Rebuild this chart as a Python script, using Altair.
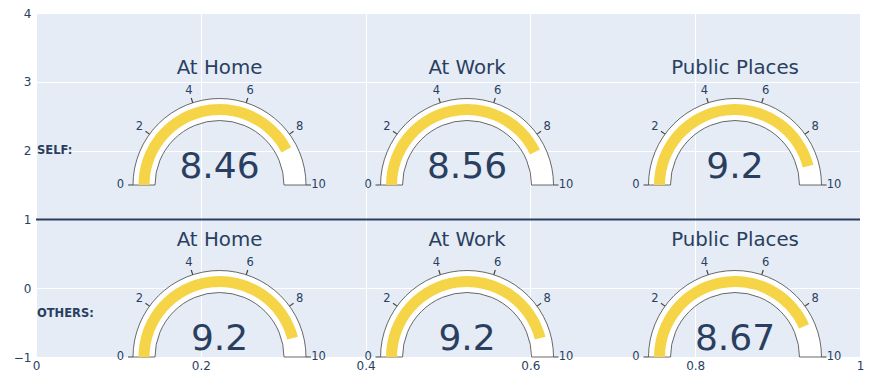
import math
import altair as alt
import pandas as pd

# ---- data ----
categories = ["At Home", "At Work", "Public Places"]
self_scores = [8.46, 8.56, 9.2]
others_scores = [9.2, 9.2, 8.67]
row_labels = ["SELF:", "OTHERS:"]
gauge_ticks = [0, 2, 4, 6, 8, 10]
gauge_max = 10
x_ticks = [0, 0.2, 0.4, 0.6, 0.8, 1]
y_ticks = [-1, 0, 1, 2, 3, 4]
divider_y = [1]

# ---- layout (gauge domains on the shared axes) ----
gauge_x = [0.2227, 0.5231, 0.8483]
row_y = [1.5, -1.0]
row_label_y = [2.0, -0.375]

TXT = "#2a3f5f"
FONT = "Verdana, DejaVu Sans, sans-serif"
START = 1.5 * math.pi  # west (9 o'clock), angles clockwise from north


def ang(v):
    return START + math.pi * v / gauge_max


gauges, ticks, tick_labels, rows = [], [], [], []
for r, scores in enumerate([self_scores, others_scores]):
    rows.append({"cx": 0.0, "cy": row_label_y[r], "label": row_labels[r]})
    for c, cat in enumerate(categories):
        v = scores[c]
        gauges.append({
            "cx": gauge_x[c], "cy": row_y[r], "title": cat,
            "value": v, "vtext": f"{v:g}",
            "g0": ang(0), "g1": ang(gauge_max),
            "b0": ang(0), "b1": ang(v),
        })
        for t in gauge_ticks:
            a = ang(t)
            ticks.append({"cx": gauge_x[c], "cy": row_y[r], "t0": a - 0.0065, "t1": a + 0.0065})
            tick_labels.append({"cx": gauge_x[c], "cy": row_y[r], "th": a, "lab": str(t)})

gdf = pd.DataFrame(gauges)
tdf = pd.DataFrame(ticks)
ldf = pd.DataFrame(tick_labels)
rdf = pd.DataFrame(rows)
divdf = pd.DataFrame({"cy": divider_y})

xscale = alt.Scale(domain=[0, 1], nice=False, zero=False)
yscale = alt.Scale(domain=[-1, 4], nice=False, zero=False)
X = alt.X("cx:Q", scale=xscale, title=None,
          axis=alt.Axis(values=x_ticks, format="~g", labelFlush=False, labelOverlap=False,
                        labelPadding=3))
Y = alt.Y("cy:Q", scale=yscale, title=None,
          axis=alt.Axis(values=y_ticks, format="d", labelFlush=False, labelOverlap=False,
                        labelPadding=5))

divider = alt.Chart(divdf).mark_rule(color=TXT, strokeWidth=2).encode(y=Y)

gauge_bg = alt.Chart(gdf).mark_arc(
    radius=86.5, radius2=64.5, fill="white", stroke="#444", strokeWidth=0.8
).encode(x=X, y=Y, theta=alt.Theta("g0:Q", scale=None, stack=False), theta2="g1:Q")

gauge_bar = alt.Chart(gdf).mark_arc(
    radius=81, radius2=70, fill="#F5D547", strokeWidth=0
).encode(x=X, y=Y, theta=alt.Theta("b0:Q", scale=None, stack=False), theta2="b1:Q")

tick_marks = alt.Chart(tdf).mark_arc(
    radius=91.5, radius2=86.5, fill="#444", strokeWidth=0
).encode(x=X, y=Y, theta=alt.Theta("t0:Q", scale=None, stack=False), theta2="t1:Q")

tick_text = alt.Chart(ldf).mark_text(
    radius=99, align="center", baseline="middle", font=FONT, fontSize=11.5, color=TXT
).encode(x=X, y=Y, theta=alt.Theta("th:Q", scale=None, stack=False), text="lab:N")

titles = alt.Chart(gdf).mark_text(
    dy=-111, align="center", baseline="alphabetic", font=FONT, fontSize=19.8, color=TXT
).encode(x=X, y=Y, text="title:N")

values = alt.Chart(gdf).mark_text(
    dy=-7, align="center", baseline="alphabetic", font=FONT, fontSize=36, color=TXT
).encode(x=X, y=Y, text="vtext:N")

row_text = alt.Chart(rdf).mark_text(
    dx=1, align="left", baseline="middle", font=FONT, fontSize=11.5, fontWeight="bold", color=TXT
).encode(x=X, y=Y, text="label:N")

chart = alt.layer(
    divider, gauge_bg, gauge_bar, tick_marks, tick_text, titles, values, row_text
).properties(
    width=824, height=344,
    background="white",
    autosize=alt.AutoSizeParams(type="none"),
    padding={"left": 28, "top": 5, "right": 6, "bottom": 16},
).configure_view(
    fill="#E5ECF6", strokeWidth=0
).configure_axis(
    grid=True, gridColor="white", gridWidth=1, domain=False, ticks=False,
    labelColor=TXT, labelFont=FONT, labelFontSize=12
)

chart.save("out.html", embed_options={"renderer": "svg", "actions": False})
